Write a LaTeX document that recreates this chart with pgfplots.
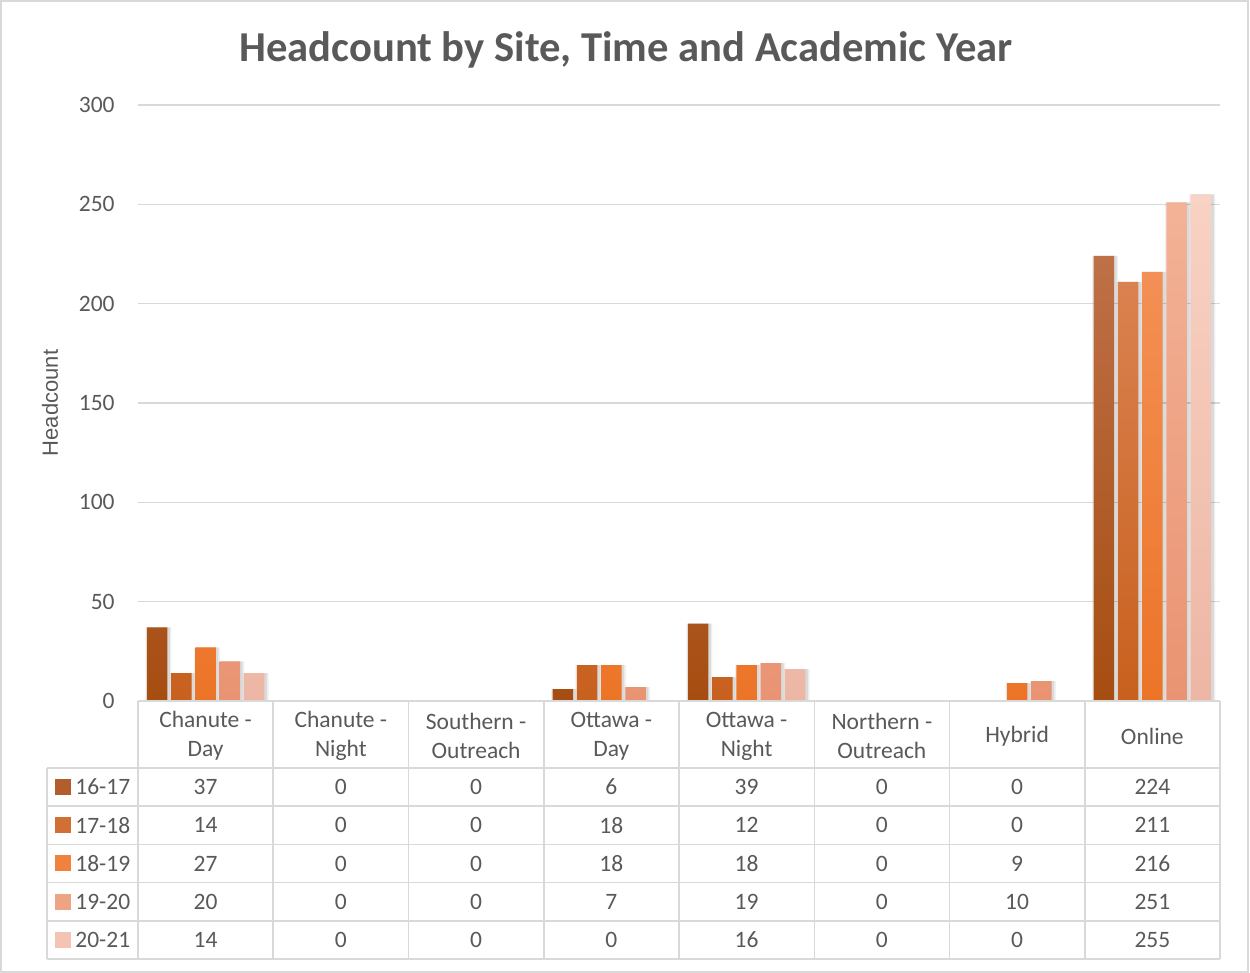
\documentclass[border=0pt]{standalone}
\usepackage{fontspec}
\setmainfont{Carlito}
\newfontfamily\lib{Liberation Sans}
\usepackage{pgfplots}
\pgfplotsset{compat=1.18}
\definecolor{tgray}{HTML}{595959}
\definecolor{lgray}{HTML}{D9D9D9}
\definecolor{c1t}{HTML}{BE7048}\definecolor{c1b}{HTML}{A64D11}
\definecolor{c2t}{HTML}{DA8250}\definecolor{c2b}{HTML}{C8601E}
\definecolor{c3t}{HTML}{F39055}\definecolor{c3b}{HTML}{EC7427}
\definecolor{c4t}{HTML}{F3B296}\definecolor{c4b}{HTML}{E99372}
\definecolor{c5t}{HTML}{F8D2C4}\definecolor{c5b}{HTML}{EDB6A4}
\definecolor{c1}{HTML}{B25E2C}
\definecolor{c2}{HTML}{D16F35}
\definecolor{c3}{HTML}{F0823D}
\definecolor{c4}{HTML}{EEA383}
\definecolor{c5}{HTML}{F3C4B4}
\pgfplotstableread{
x s1 s2 s3 s4 s5
0 37 14 27 20 14
1 0 0 0 0 0
2 0 0 0 0 0
3 6 18 18 7 0
4 39 12 18 19 16
5 0 0 0 0 0
6 0 0 9 10 0
7 224 211 216 251 255
}\datatab
\pgfplotsset{
  tv/.style={draw=none, mark=none, nodes near coords, point meta=explicit symbolic,
    every node near coord/.style={anchor=center, text=tgray, inner sep=0pt,
      font=\fontsize{11.75}{14}\selectfont}},
  shad/.style={draw=none, fill=black, fill opacity=0.06, bar width=13pt, bar shift=#1},
  shadb/.style={draw=none, fill=black, fill opacity=0.09, bar width=11.2pt, bar shift=#1},
}
\begin{document}
\begin{tikzpicture}
\path[use as bounding box] (0,0) rectangle (625pt,486.5pt);
\draw[lgray, line width=0.75pt] (0.5pt,0.5pt) rectangle (624pt,486pt);
\node[anchor=base, text=tgray, inner sep=0pt, font=\fontsize{21.3}{25}\selectfont\bfseries] at (313pt,455.5pt) {Headcount by Site, Time and Academic Year};
\begin{axis}[at={(69pt,136pt)}, anchor=south west, scale only axis,
  width=541pt, height=298pt,
  xmin=-0.5, xmax=7.5, ymin=0, ymax=300,
  ytick={0,50,...,300}, xtick={0,...,7},
  xticklabels={{Chanute -\\Day},{Chanute -\\Night},{Southern -\\Outreach},{Ottawa -\\Day},{Ottawa -\\Night},{Northern -\\Outreach},{Hybrid},{Online}},
  axis line style={draw=none}, tick style={draw=none},
  ymajorgrids, grid style={lgray, line width=0.75pt},
  ybar, bar width=10.25pt,
  /pgf/number format/assume math mode=true,
  tick label style={text=tgray, font=\fontsize{11.75}{14.5}\selectfont},
  yticklabel style={inner sep=0pt, xshift=-11.5pt},
  xticklabel style={align=center, anchor=center, inner sep=0pt, yshift=-13.25pt},
  ylabel={Headcount},
  ylabel style={at={(axis description cs:-0.0813,0.5)}, anchor=center, text=tgray, font=\lib\fontsize{11}{13}\selectfont},
]
\addplot[shad=-23.6pt] table[x=x,y=s1] {\datatab};
\addplot[shad=-11.45pt] table[x=x,y=s2] {\datatab};
\addplot[shad=0.7pt] table[x=x,y=s3] {\datatab};
\addplot[shad=12.85pt] table[x=x,y=s4] {\datatab};
\addplot[shad=25pt] table[x=x,y=s5] {\datatab};
\addplot[shadb=-23.5pt] table[x=x,y=s1] {\datatab};
\addplot[shadb=-11.35pt] table[x=x,y=s2] {\datatab};
\addplot[shadb=0.8pt] table[x=x,y=s3] {\datatab};
\addplot[shadb=12.95pt] table[x=x,y=s4] {\datatab};
\addplot[shadb=25.1pt] table[x=x,y=s5] {\datatab};
\addplot[draw=none, bar shift=-24.3pt, top color=c1t, bottom color=c1b] table[x=x,y=s1] {\datatab};
\addplot[draw=none, bar shift=-12.15pt, top color=c2t, bottom color=c2b] table[x=x,y=s2] {\datatab};
\addplot[draw=none, bar shift=0pt, top color=c3t, bottom color=c3b] table[x=x,y=s3] {\datatab};
\addplot[draw=none, bar shift=12.15pt, top color=c4t, bottom color=c4b] table[x=x,y=s4] {\datatab};
\addplot[draw=none, bar shift=24.3pt, top color=c5t, bottom color=c5b] table[x=x,y=s5] {\datatab};
\end{axis}
\begin{axis}[at={(23.5pt,7pt)}, anchor=south west, scale only axis,
  width=586.5pt, height=129pt,
  xmin=-1.1728, xmax=7.5, ymin=0, ymax=6.754,
  hide axis, clip=false]
\draw[lgray, line width=0.75pt] (axis cs:-0.5,6.754) -- (axis cs:7.5,6.754);
\pgfplotsinvokeforeach{0,1,2,3,4,5}{\draw[lgray, line width=0.75pt] (axis cs:-1.1728,#1) -- (axis cs:7.5,#1);}
\draw[lgray, line width=0.75pt] (axis cs:-1.1728,0) -- (axis cs:-1.1728,5);
\pgfplotsinvokeforeach{-0.5,0.5,1.5,2.5,3.5,4.5,5.5,6.5,7.5}{\draw[lgray, line width=0.75pt] (axis cs:#1,0) -- (axis cs:#1,6.754);}
\addplot[tv] coordinates {(0,4.5)[37] (1,4.5)[0] (2,4.5)[0] (3,4.5)[6] (4,4.5)[39] (5,4.5)[0] (6,4.5)[0] (7,4.5)[224]};
\addplot[tv] coordinates {(0,3.5)[14] (1,3.5)[0] (2,3.5)[0] (3,3.5)[18] (4,3.5)[12] (5,3.5)[0] (6,3.5)[0] (7,3.5)[211]};
\addplot[tv] coordinates {(0,2.5)[27] (1,2.5)[0] (2,2.5)[0] (3,2.5)[18] (4,2.5)[18] (5,2.5)[0] (6,2.5)[9] (7,2.5)[216]};
\addplot[tv] coordinates {(0,1.5)[20] (1,1.5)[0] (2,1.5)[0] (3,1.5)[7] (4,1.5)[19] (5,1.5)[0] (6,1.5)[10] (7,1.5)[251]};
\addplot[tv] coordinates {(0,0.5)[14] (1,0.5)[0] (2,0.5)[0] (3,0.5)[0] (4,0.5)[16] (5,0.5)[0] (6,0.5)[0] (7,0.5)[255]};
\addplot[only marks, color=c1, mark=square*, mark size=3.75pt, mark options={draw=c1, fill=c1, line width=0pt}] coordinates {(-1.058,4.5)};
\addplot[only marks, color=c2, mark=square*, mark size=3.75pt, mark options={draw=c2, fill=c2, line width=0pt}] coordinates {(-1.058,3.5)};
\addplot[only marks, color=c3, mark=square*, mark size=3.75pt, mark options={draw=c3, fill=c3, line width=0pt}] coordinates {(-1.058,2.5)};
\addplot[only marks, color=c4, mark=square*, mark size=3.75pt, mark options={draw=c4, fill=c4, line width=0pt}] coordinates {(-1.058,1.5)};
\addplot[only marks, color=c5, mark=square*, mark size=3.75pt, mark options={draw=c5, fill=c5, line width=0pt}] coordinates {(-1.058,0.5)};
\addplot[tv, every node near coord/.append style={anchor=west}] coordinates {(-0.9658,4.5)[16-17] (-0.9658,3.5)[17-18] (-0.9658,2.5)[18-19] (-0.9658,1.5)[19-20] (-0.9658,0.5)[20-21]};
\end{axis}
\end{tikzpicture}
\end{document}
